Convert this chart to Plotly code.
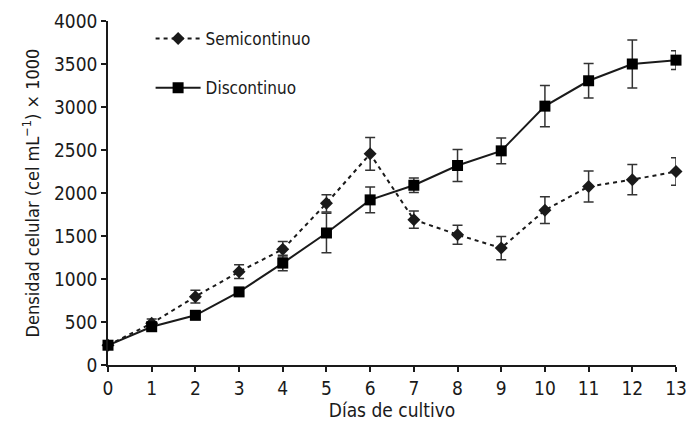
import plotly.graph_objects as go

dias = list(range(14))
semi = [230, 485, 795, 1085, 1345, 1880, 2455, 1690, 1515, 1360, 1800, 2075, 2155, 2250]
semi_err = [30, 50, 75, 80, 90, 100, 190, 100, 110, 135, 155, 180, 175, 160]
disc = [230, 445, 578, 850, 1185, 1535, 1920, 2090, 2320, 2490, 3010, 3305, 3500, 3545]
disc_err = [30, 40, 50, 40, 90, 230, 150, 85, 185, 150, 240, 200, 280, 110]

FONT = "DejaVu Sans Condensed, Liberation Sans Narrow, Arial Narrow, sans-serif"

fig = go.Figure()
fig.add_trace(go.Scatter(
    x=dias, y=semi, name="Semicontinuo", legendgroup="a",
    mode="lines+markers",
    line=dict(color="#1a1a1a", width=2, dash="4px,4px"),
    marker=dict(symbol="diamond", size=10, color="#1a1a1a"),
    error_y=dict(type="data", array=semi_err, visible=True, color="#333333", thickness=1.5, width=5),
    cliponaxis=False,
))
fig.add_trace(go.Scatter(
    x=dias, y=disc, name="Discontinuo", legendgroup="b",
    mode="lines+markers",
    line=dict(color="#1a1a1a", width=2),
    marker=dict(symbol="square", size=11, color="#000000"),
    error_y=dict(type="data", array=disc_err, visible=True, color="#333333", thickness=1.5, width=5),
    cliponaxis=False,
))

fig.update_layout(
    width=695, height=422,
    margin=dict(l=100, r=27, t=13, b=65),
    paper_bgcolor="white", plot_bgcolor="white",
    font=dict(family=FONT, size=19, color="#1a1a1a"),
    showlegend=True,
    legend=dict(x=0.075, y=1.0, xanchor="left", yanchor="top",
                traceorder="grouped", tracegroupgap=24, itemwidth=45,
                bgcolor="rgba(0,0,0,0)", font=dict(size=17)),
    xaxis=dict(range=[0, 13], tickmode="linear", tick0=0, dtick=1,
               showline=True, linecolor="#1a1a1a", linewidth=1.5,
               ticks="outside", ticklen=5, tickcolor="#1a1a1a", tickwidth=1.5,
               showgrid=False, zeroline=False, automargin=False,
               title=dict(text="Días de cultivo", standoff=2, font=dict(size=19))),
    yaxis=dict(range=[0, 4000], tickmode="linear", tick0=0, dtick=500,
               showline=True, linecolor="#1a1a1a", linewidth=1.5,
               ticks="outside", ticklen=5, tickcolor="#1a1a1a", tickwidth=1.5,
               showgrid=False, zeroline=False, automargin=False,
               title=dict(text="Densidad celular (cel mL<sup>−1</sup>) × 1000", standoff=10,
                          font=dict(size=18))),
)

fig.write_html("out.html")
